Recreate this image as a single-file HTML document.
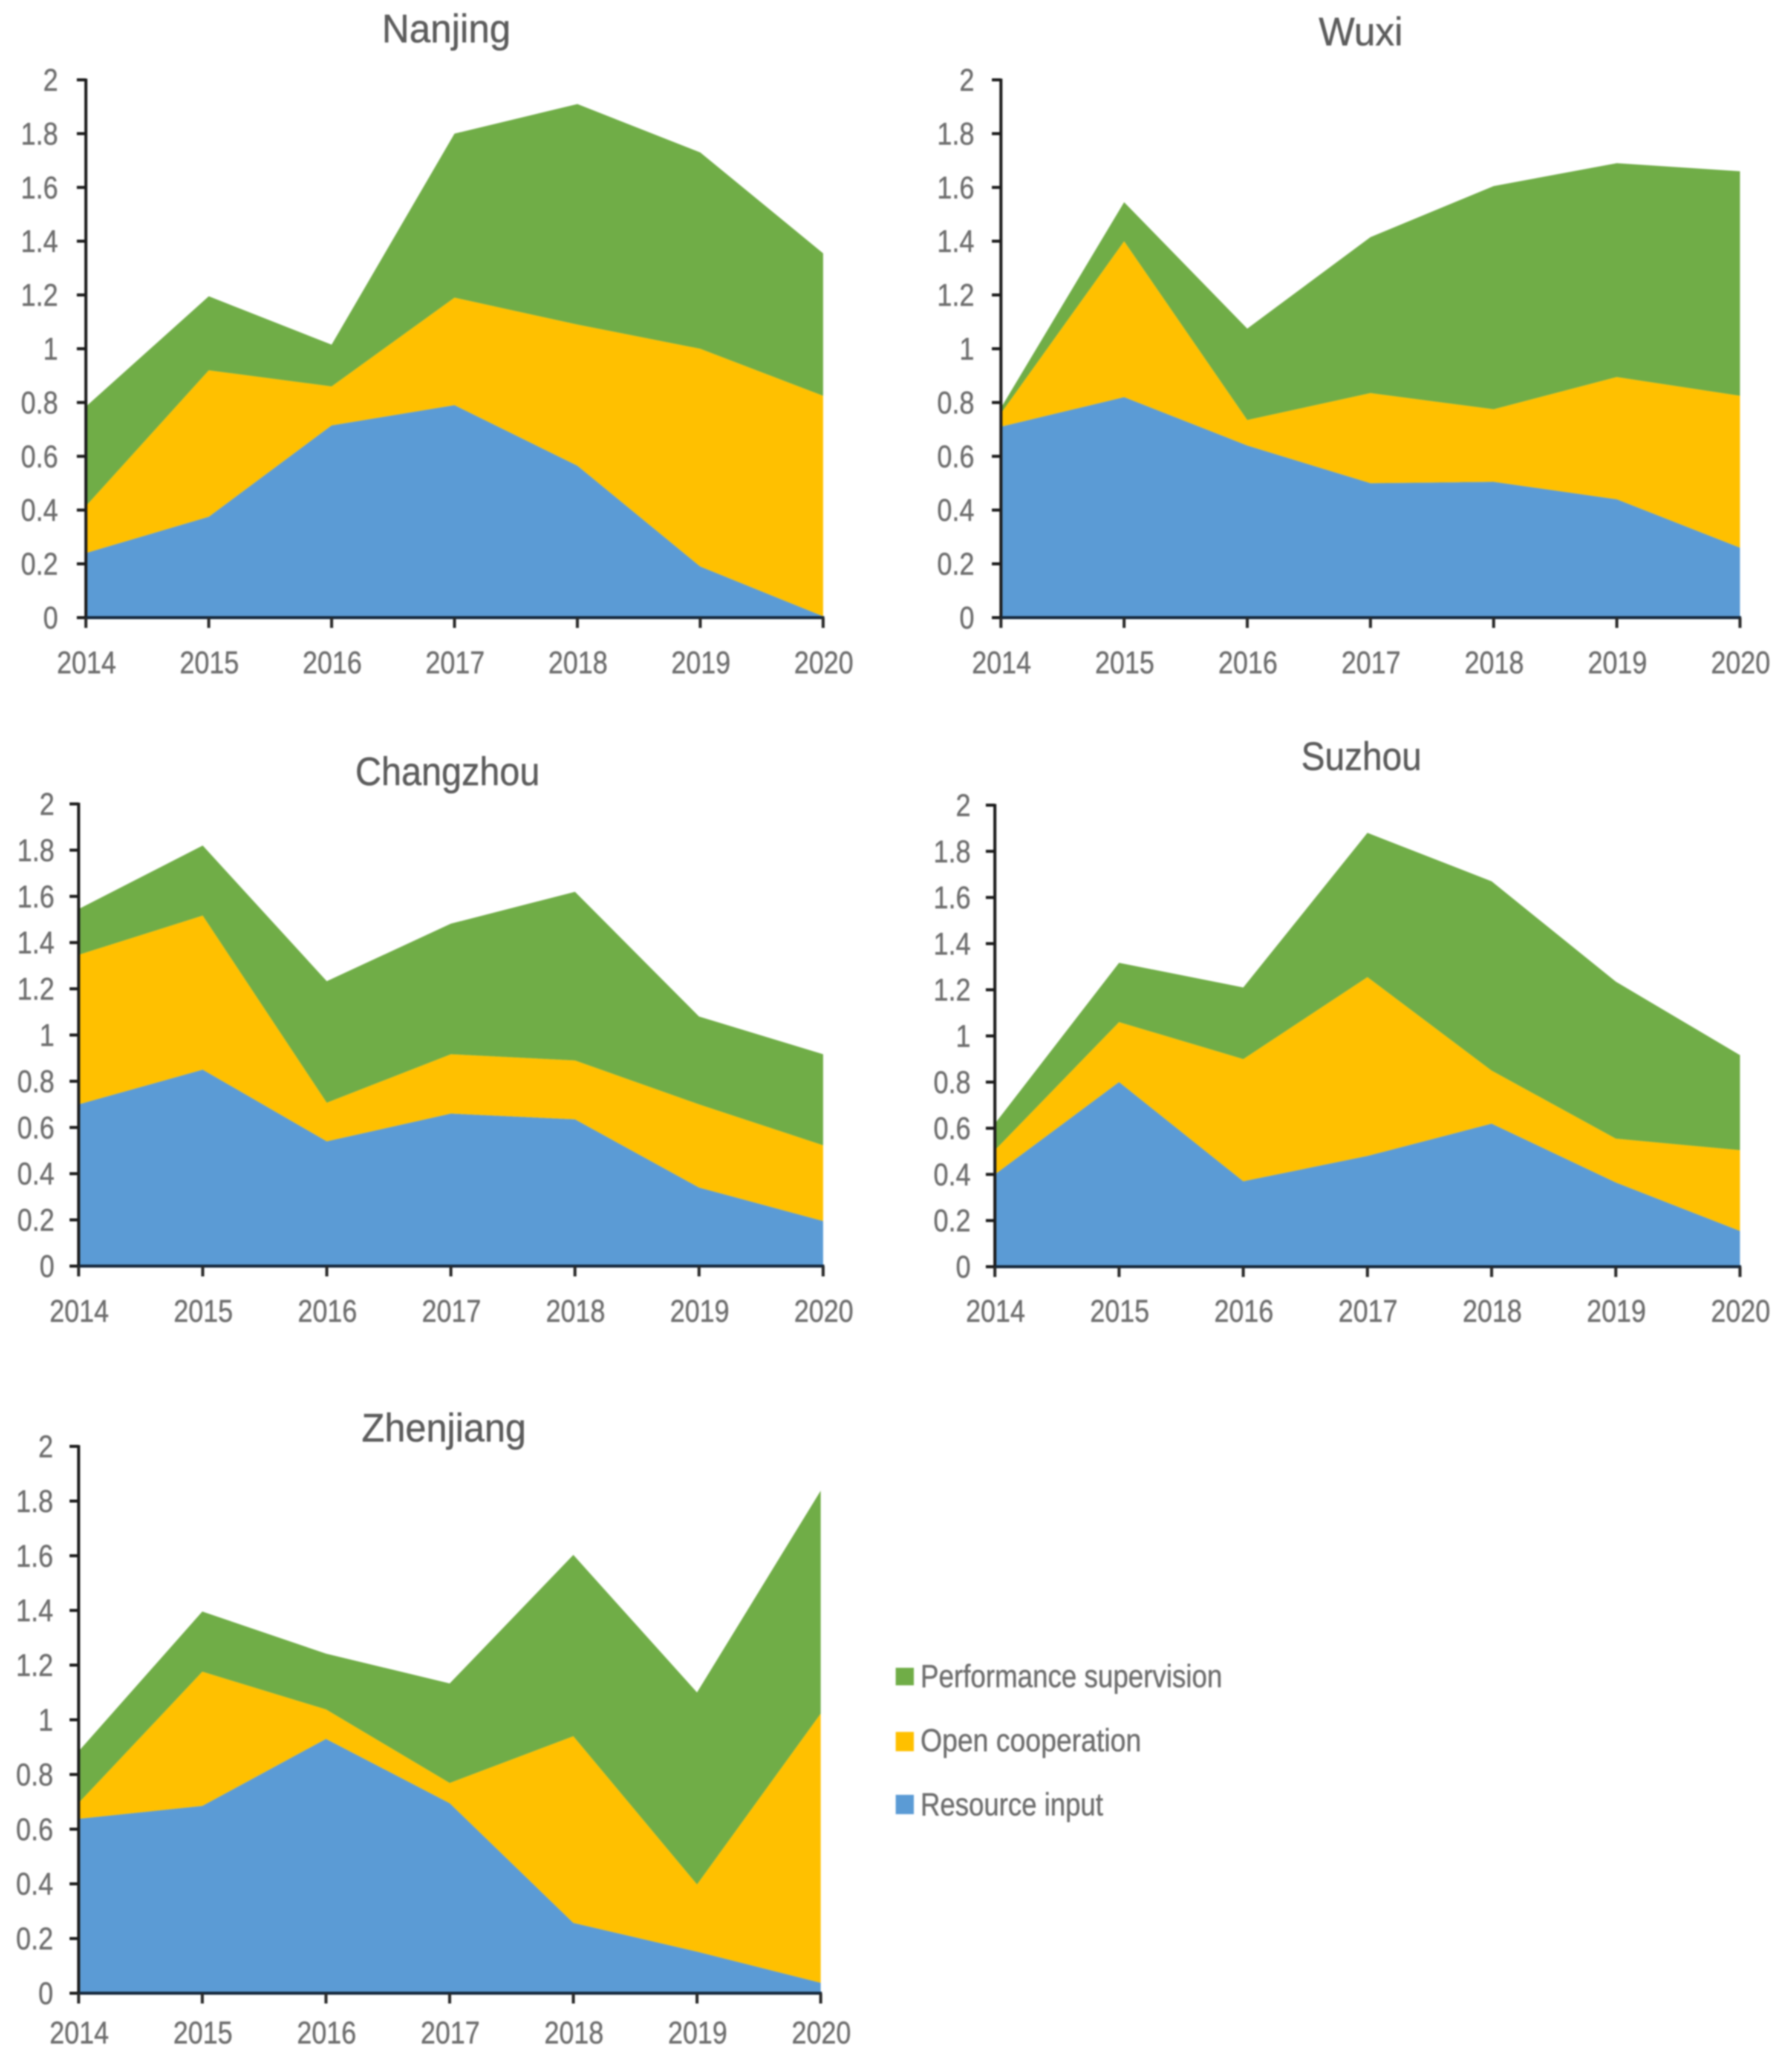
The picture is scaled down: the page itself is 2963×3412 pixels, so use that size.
<!DOCTYPE html>
<html lang="en">
<head>
<meta charset="utf-8">
<title>Stacked area charts by city</title>
<style>
html,body{margin:0;padding:0;background:#fff;width:2963px;height:3412px;overflow:hidden}
svg{display:block;filter:blur(1.3px)}
text{font-family:"Liberation Sans",sans-serif;fill:#6e6e6e;stroke:#6e6e6e;stroke-width:.6px}
.title{fill:#5c5c5c;stroke:#5c5c5c}
</style>
</head>
<body>
<svg id="chart-root" xmlns="http://www.w3.org/2000/svg" width="2963" height="3412" viewBox="0 0 2963 3412">
<rect x="0" y="0" width="2963" height="3412" fill="#fff"/>
<g id="panels"></g>
<g>
<g>
<rect x="1481" y="2757" width="30" height="29" fill="#70AD47"/>
<text x="1522" y="2789" font-size="53" textLength="499" lengthAdjust="spacingAndGlyphs">Performance supervision</text>
</g>
<g>
<rect x="1481" y="2863" width="30" height="32" fill="#FFC000"/>
<text x="1522" y="2895" font-size="53" textLength="365" lengthAdjust="spacingAndGlyphs">Open cooperation</text>
</g>
<g>
<rect x="1481" y="2967" width="30" height="32" fill="#5B9BD5"/>
<text x="1522" y="3001" font-size="53" textLength="302" lengthAdjust="spacingAndGlyphs">Resource input</text>
</g>
</g>
</svg>
<script>
const categories = ['2014','2015','2016','2017','2018','2019','2020'];
const tickValues = [0,0.2,0.4,0.6,0.8,1,1.2,1.4,1.6,1.8,2];
const tickLabels = ['0','0.2','0.4','0.6','0.8','1','1.2','1.4','1.6','1.8','2'];
const cityNames = ['Nanjing','Wuxi','Changzhou','Suzhou','Zhenjiang'];

const nanjingResource = [0.24,0.375,0.715,0.79,0.565,0.19,0.005];
const nanjingOpen = [0.175,0.545,0.145,0.40,0.525,0.81,0.82];
const nanjingPerformance = [0.37,0.275,0.155,0.61,0.82,0.73,0.53];

const wuxiResource = [0.71,0.82,0.64,0.50,0.505,0.44,0.26];
const wuxiOpen = [0.05,0.58,0.095,0.335,0.27,0.455,0.565];
const wuxiPerformance = [0.02,0.145,0.34,0.58,0.83,0.795,0.835];

const changzhouResource = [0.70,0.85,0.54,0.66,0.635,0.34,0.195];
const changzhouOpen = [0.647,0.667,0.167,0.257,0.255,0.36,0.328];
const changzhouPerformance = [0.198,0.303,0.526,0.565,0.73,0.38,0.394];

const suzhouResource = [0.40,0.80,0.37,0.48,0.62,0.365,0.155];
const suzhouOpen = [0.105,0.26,0.53,0.775,0.23,0.19,0.35];
const suzhouPerformance = [0.115,0.257,0.31,0.625,0.82,0.68,0.412];

const zhenjiangResource = [0.638,0.685,0.93,0.695,0.257,0.152,0.038];
const zhenjiangOpen = [0.058,0.491,0.108,0.074,0.683,0.246,0.985];
const zhenjiangPerformance = [0.189,0.22,0.204,0.364,0.663,0.702,0.815];

const seriesByCity = [
  [nanjingResource, nanjingOpen, nanjingPerformance],
  [wuxiResource, wuxiOpen, wuxiPerformance],
  [changzhouResource, changzhouOpen, changzhouPerformance],
  [suzhouResource, suzhouOpen, suzhouPerformance],
  [zhenjiangResource, zhenjiangOpen, zhenjiangPerformance]
];
const seriesKeys = ['resource-input','open-cooperation','performance-supervision'];
const seriesColors = ['#5B9BD5','#FFC000','#70AD47'];

const frames = [
  {l:142,r:1361,t:132,b:1021,labelRight:96,yearBase:1113,titleX:738,titleBase:70,titleW:213},
  {l:1655,r:2877,t:132,b:1021,labelRight:1611,yearBase:1113,titleX:2250,titleBase:75,titleW:139},
  {l:130,r:1361,t:1329,b:2093,labelRight:90,yearBase:2185,titleX:740,titleBase:1298,titleW:305},
  {l:1645,r:2877,t:1331,b:2094,labelRight:1605,yearBase:2185,titleX:2251,titleBase:1273,titleW:199},
  {l:130,r:1357,t:2391,b:3295,labelRight:88,yearBase:3378,titleX:734,titleBase:2383,titleW:272}
];

const NS = 'http://www.w3.org/2000/svg';
const root = document.getElementById('panels');

cityNames.forEach(function (city, c) {
  const f = frames[c];
  const key = city.toLowerCase();
  const xScale = function (i) { return f.l + (f.r - f.l) * i / (categories.length - 1); };
  const yScale = function (v) { return f.b - (f.b - f.t) * v / 2; };

  const panel = document.createElementNS(NS, 'g');
  
  
  root.appendChild(panel);

  const title = document.createElementNS(NS, 'text');
  
  
  title.setAttribute('class', 'title');
  title.setAttribute('x', f.titleX);
  title.setAttribute('y', f.titleBase);
  title.setAttribute('text-anchor', 'middle');
  title.setAttribute('font-size', '66');
  title.setAttribute('textLength', f.titleW);
  title.setAttribute('lengthAdjust', 'spacingAndGlyphs');
  title.textContent = city;
  panel.appendChild(title);

  let base = categories.map(function () { return 0; });
  seriesByCity[c].forEach(function (values, s) {
    const top = values.map(function (v, i) { return base[i] + v; });
    const upper = top.map(function (v, i) { return xScale(i).toFixed(1) + ',' + yScale(v).toFixed(1); });
    const lower = base.map(function (v, i) { return xScale(i).toFixed(1) + ',' + yScale(v).toFixed(1); }).reverse();
    const area = document.createElementNS(NS, 'polygon');
    
    
    area.setAttribute('points', upper.concat(lower).join(' '));
    area.setAttribute('fill', seriesColors[s]);
    panel.appendChild(area);
    base = top;
  });

  const yAxis = document.createElementNS(NS, 'line');
  
  
  yAxis.setAttribute('x1', f.l);
  yAxis.setAttribute('x2', f.l);
  yAxis.setAttribute('y1', f.t - 2);
  yAxis.setAttribute('y2', f.b + 2);
  yAxis.setAttribute('stroke', '#1c1c1c');
  yAxis.setAttribute('stroke-width', '5');
  panel.appendChild(yAxis);

  const xAxis = document.createElementNS(NS, 'line');
  
  
  xAxis.setAttribute('x1', f.l);
  xAxis.setAttribute('x2', f.r + 2);
  xAxis.setAttribute('y1', f.b);
  xAxis.setAttribute('y2', f.b);
  xAxis.setAttribute('stroke', '#14283c');
  xAxis.setAttribute('stroke-width', '5');
  panel.appendChild(xAxis);

  tickValues.forEach(function (v, i) {
    const tick = document.createElementNS(NS, 'line');
    
    
    tick.setAttribute('x1', f.l - 15);
    tick.setAttribute('x2', f.l);
    tick.setAttribute('y1', yScale(v));
    tick.setAttribute('y2', yScale(v));
    tick.setAttribute('stroke', '#1c1c1c');
    tick.setAttribute('stroke-width', '5');
    panel.appendChild(tick);

    const label = document.createElementNS(NS, 'text');
    
    
    label.setAttribute('x', f.labelRight);
    label.setAttribute('y', yScale(v) + 18);
    label.setAttribute('text-anchor', 'end');
    label.setAttribute('font-size', '52');
    label.textContent = tickLabels[i];
    panel.appendChild(label);
    label.setAttribute('textLength', (label.getComputedTextLength() * 0.85).toFixed(1));
    label.setAttribute('lengthAdjust', 'spacingAndGlyphs');
  });

  categories.forEach(function (year, i) {
    const tick = document.createElementNS(NS, 'line');
    
    
    tick.setAttribute('x1', xScale(i));
    tick.setAttribute('x2', xScale(i));
    tick.setAttribute('y1', f.b);
    tick.setAttribute('y2', f.b + 17);
    tick.setAttribute('stroke', '#2a2a2a');
    tick.setAttribute('stroke-width', '5');
    panel.appendChild(tick);

    const label = document.createElementNS(NS, 'text');
    
    
    label.setAttribute('x', xScale(i) + 1);
    label.setAttribute('y', f.yearBase);
    label.setAttribute('text-anchor', 'middle');
    label.setAttribute('font-size', '52');
    label.setAttribute('textLength', '98');
    label.setAttribute('lengthAdjust', 'spacingAndGlyphs');
    label.textContent = year;
    panel.appendChild(label);
  });
});
</script>
</body>
</html>
